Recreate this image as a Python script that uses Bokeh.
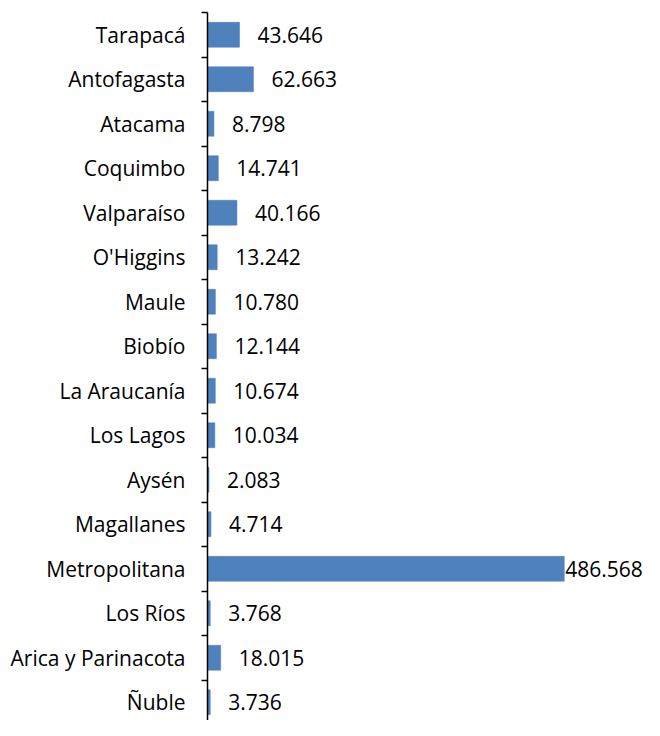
from bokeh.plotting import figure
from bokeh.models import ColumnDataSource, Range1d, FixedTicker
from bokeh.core.properties import value
from bokeh.embed import file_html
from bokeh.resources import INLINE

regions = ["Tarapacá", "Antofagasta", "Atacama", "Coquimbo", "Valparaíso", "O'Higgins",
           "Maule", "Biobío", "La Araucanía", "Los Lagos", "Aysén", "Magallanes",
           "Metropolitana", "Los Ríos", "Arica y Parinacota", "Ñuble"]
values = [43646, 62663, 8798, 14741, 40166, 13242, 10780, 12144, 10674, 10034,
          2083, 4714, 486568, 3768, 18015, 3736]

n = len(regions)
ypos = list(range(n))
labels = [f"{v:,}".replace(",", ".") for v in values]
vmax = max(values)
offsets = [1 if v == vmax else 18 for v in values]

src = ColumnDataSource(dict(y=ypos, v=values, lab=labels, off=offsets))

p = figure(width=644, height=720, output_backend="svg", toolbar_location=None,
           x_range=Range1d(0, 596000), y_range=Range1d(15.41, -0.5),
           min_border_left=207, min_border_right=0, min_border_top=12, min_border_bottom=0)
p.outline_line_color = None
p.grid.visible = False
p.xaxis.visible = False
p.background_fill_color = "white"
p.border_fill_color = "white"

p.hbar(y="y", left=0, right="v", height=0.56, source=src,
       fill_color="#4F81BD", line_color="#4A7EBB", line_width=0.5)
p.text(x="v", y="y", text="lab", x_offset="off", source=src,
       text_align="left", text_baseline="middle",
       text_font=value("Open Sans"), text_font_size="21px", text_color="black")

yax = p.yaxis[0]
yax.ticker = FixedTicker(ticks=ypos, minor_ticks=[i - 0.5 for i in range(n + 1)])
yax.major_label_overrides = {i: r for i, r in enumerate(regions)}
yax.major_tick_out = 0
yax.major_tick_in = 0
yax.minor_tick_out = 6
yax.minor_tick_in = 0
yax.minor_tick_line_color = "black"
yax.minor_tick_line_width = 1.5
yax.axis_line_color = "black"
yax.axis_line_width = 1.5
yax.major_label_standoff = 16
yax.major_label_text_font = "Open Sans"
yax.major_label_text_font_size = "21px"
yax.major_label_text_color = "black"

open("out.html", "w").write(file_html(p, INLINE))
